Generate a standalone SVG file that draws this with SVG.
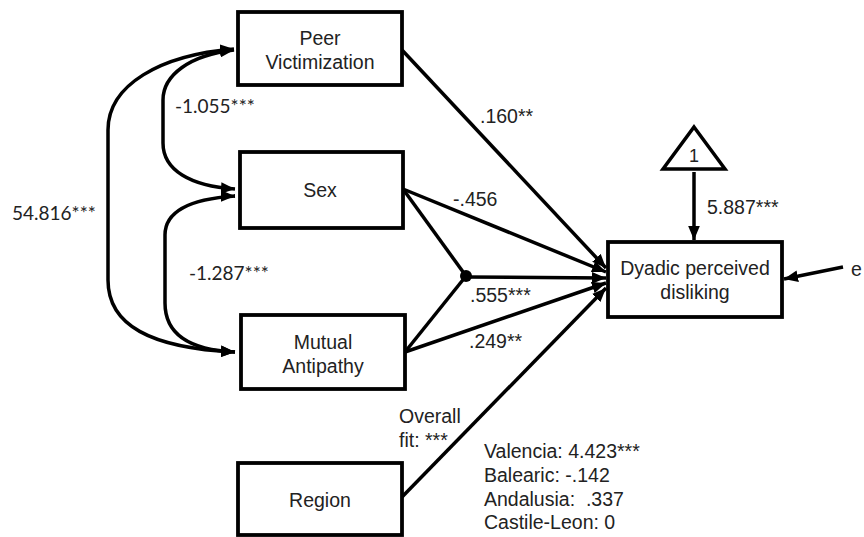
<svg xmlns="http://www.w3.org/2000/svg" width="864" height="537" viewBox="0 0 864 537">
<style>
.box{fill:#fff;stroke:#000;stroke-width:3.8}
.t{font-family:"Liberation Sans",Arial,sans-serif;font-size:19.5px;fill:#222;text-anchor:middle}
.l{font-family:"Liberation Sans",Arial,sans-serif;font-size:19.5px;fill:#222}
.c{font-family:Lato,"Open Sans",sans-serif;font-size:19px;fill:#222}
.e{fill:none;stroke:#000;stroke-width:3.5}
</style>
<defs>
<marker id="ah" viewBox="0 0 12 10" refX="12" refY="5" markerUnits="userSpaceOnUse" markerWidth="14" markerHeight="12" orient="auto-start-reverse">
<path d="M0,0 L12,5 L0,10 z" fill="#000"/>
</marker>
</defs>
<rect width="864" height="537" fill="#fff"/>
<g id="connectors">
<path class="e" d="M234,49 C160,55 108,85 108,130 L108,280 C108,325 150,348 235,352" marker-start="url(#ah)" marker-end="url(#ah)"/>
<path class="e" d="M234,50 C190,55 163,75 163,100 L163,143 C163,170 190,186 235,189" marker-start="url(#ah)" marker-end="url(#ah)"/>
<path class="e" d="M235,196 C190,199 165,212 165,235 L165,303 C165,335 190,350 235,352" marker-end="url(#ah)"/>
<path class="e" d="M235,196 L234,196" marker-start="url(#ah)"/>
<line class="e" x1="402" y1="50" x2="606" y2="268" marker-end="url(#ah)"/>
<line class="e" x1="403" y1="189" x2="606" y2="272" marker-end="url(#ah)"/>
<line class="e" x1="403" y1="189" x2="466" y2="276"/>
<line class="e" x1="405" y1="352" x2="466" y2="276"/>
<circle cx="466" cy="276" r="6" fill="#000"/>
<line class="e" x1="466" y1="277" x2="606" y2="278" marker-end="url(#ah)"/>
<line class="e" x1="405" y1="352" x2="606" y2="283" marker-end="url(#ah)"/>
<line class="e" x1="402" y1="497" x2="606" y2="288" marker-end="url(#ah)"/>
<line class="e" x1="694" y1="172" x2="694" y2="240" marker-end="url(#ah)"/>
<line class="e" x1="843" y1="267" x2="784" y2="279" marker-end="url(#ah)"/>
</g>
<g id="labels">
<text class="c" x="12" y="220">54.816***</text>
<text class="c" x="175" y="113">-1.055***</text>
<text class="c" x="189" y="280">-1.287***</text>
<text class="l" x="480" y="123">.160**</text>
<text class="l" x="453" y="206">-.456</text>
<text class="l" x="470" y="302">.555***</text>
<text class="l" x="469" y="348">.249**</text>
<text class="l" x="707" y="214">5.887***</text>
<text class="l" x="399" y="423">Overall</text>
<text class="l" x="399" y="447">fit: ***</text>
<text class="l" x="484" y="458">Valencia: 4.423***</text>
<text class="l" x="484" y="482">Balearic: -.142</text>
<text class="l" x="484" y="506" xml:space="preserve">Andalusia:  .337</text>
<text class="l" x="484" y="529">Castile-Leon: 0</text>
<text class="l" x="851" y="276">e</text>
</g>
<g id="peer">
<rect class="box" x="238" y="12" width="164" height="73"/>
<text class="t" x="320" y="45">Peer</text>
<text class="t" x="320" y="69">Victimization</text>
</g>
<g id="sex">
<rect class="box" x="240" y="152" width="163" height="76"/>
<text class="t" x="320" y="197">Sex</text>
</g>
<g id="mutual">
<rect class="box" x="241" y="315" width="164" height="74"/>
<text class="t" x="323" y="349">Mutual</text>
<text class="t" x="323" y="373">Antipathy</text>
</g>
<g id="region">
<rect class="box" x="238" y="463" width="164" height="72"/>
<text class="t" x="320" y="507">Region</text>
</g>
<g id="dyadic">
<rect class="box" x="608" y="242" width="174" height="75"/>
<text class="t" x="695" y="275">Dyadic perceived</text>
<text class="t" x="695" y="299">disliking</text>
</g>
<g id="one">
<polygon points="694,127 725,169 663,169" fill="#fff" stroke="#000" stroke-width="3.5"/>
<text class="t" x="694" y="162" style="font-size:18px">1</text>
</g>
</svg>
